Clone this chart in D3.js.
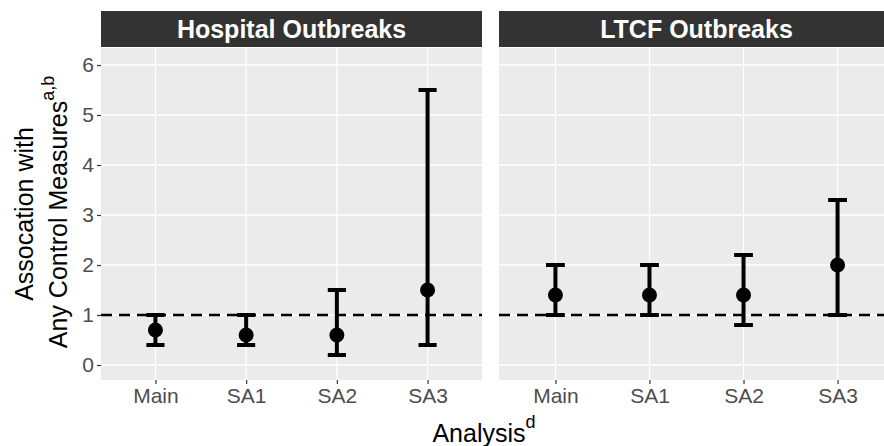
<!DOCTYPE html>
<html>
<head>
<meta charset="utf-8">
<script src="https://cdn.jsdelivr.net/npm/d3@7"></script>
<style>
  html, body { margin: 0; padding: 0; background: #fff; }
  svg { display: block; font-family: "Liberation Sans", Arial, sans-serif; }
</style>
</head>
<body>
<svg id="chart" width="884" height="446"></svg>
<script>
// Analyses shown on the x axis of each facet
const analyses = ["Main", "SA1", "SA2", "SA3"];
const facetTitles = ["Hospital Outbreaks", "LTCF Outbreaks"];

// Hospital outbreaks: estimate with lower / upper interval bounds
const hospitalEst  = [0.7, 0.6, 0.6, 1.5];
const hospitalLow  = [0.4, 0.4, 0.2, 0.4];
const hospitalHigh = [1.0, 1.0, 1.5, 5.5];

// LTCF outbreaks: estimate with lower / upper interval bounds
const ltcfEst  = [1.4, 1.4, 1.4, 2.0];
const ltcfLow  = [1.0, 1.0, 0.8, 1.0];
const ltcfHigh = [2.0, 2.0, 2.2, 3.3];

const yTicks = [0, 1, 2, 3, 4, 5, 6];
const referenceValue = 1;

const series = [
  { est: hospitalEst, low: hospitalLow, high: hospitalHigh },
  { est: ltcfEst, low: ltcfLow, high: ltcfHigh }
];

// Layout
const panelTop = 48, panelBottom = 380;
const stripTop = 11, stripBottom = 47;
const panels = [{ x0: 101, x1: 482 }, { x0: 499, x1: 894 }];

const svg = d3.select("#chart");

const y = d3.scaleLinear().domain([-0.3, 6.34]).range([panelBottom, panelTop]);

const tickColor = "#4D4D4D";
const gridColor = "#FFFFFF";

panels.forEach((p, i) => {
  const x = d3.scalePoint().domain(analyses).range([p.x0, p.x1]).padding(0.6);
  const g = svg.append("g");

  // panel background
  g.append("rect")
    .attr("x", p.x0).attr("y", panelTop)
    .attr("width", p.x1 - p.x0).attr("height", panelBottom - panelTop)
    .attr("fill", "#EBEBEB");

  // horizontal grid
  g.selectAll("line.hgrid").data(yTicks).join("line")
    .attr("class", "hgrid")
    .attr("x1", p.x0).attr("x2", p.x1)
    .attr("y1", d => y(d)).attr("y2", d => y(d))
    .attr("stroke", gridColor).attr("stroke-width", 1.3);

  // vertical grid
  g.selectAll("line.vgrid").data(analyses).join("line")
    .attr("class", "vgrid")
    .attr("x1", d => x(d)).attr("x2", d => x(d))
    .attr("y1", panelTop).attr("y2", panelBottom)
    .attr("stroke", gridColor).attr("stroke-width", 1.3);

  // strip
  g.append("rect")
    .attr("x", p.x0).attr("y", stripTop)
    .attr("width", p.x1 - p.x0).attr("height", stripBottom - stripTop)
    .attr("fill", "#333333");
  g.append("text")
    .attr("x", (p.x0 + p.x1) / 2).attr("y", 38)
    .attr("text-anchor", "middle")
    .attr("fill", "#FFFFFF")
    .attr("font-weight", "bold")
    .attr("font-size", 25)
    .text(facetTitles[i]);

  // x axis
  const xAxis = d3.axisBottom(x).tickSize(4).tickPadding(4);
  const ax = g.append("g").attr("transform", `translate(0,${panelBottom})`).call(xAxis);
  ax.select(".domain").remove();
  ax.selectAll(".tick line").attr("stroke", "#333333").attr("stroke-width", 1.2);
  ax.selectAll(".tick text")
    .attr("fill", tickColor).attr("font-size", 21)
    .attr("font-family", "Liberation Sans, Arial, sans-serif")
    .attr("dy", "0.71em");

  // y axis on the first panel only
  if (i === 0) {
    const yAxis = d3.axisLeft(y).tickValues(yTicks).tickFormat(d3.format("d"))
      .tickSize(4).tickPadding(3);
    const ay = g.append("g").attr("transform", `translate(${p.x0},0)`).call(yAxis);
    ay.select(".domain").remove();
    ay.selectAll(".tick line").attr("stroke", "#333333").attr("stroke-width", 1.2);
    ay.selectAll(".tick text")
      .attr("fill", tickColor).attr("font-size", 21)
      .attr("font-family", "Liberation Sans, Arial, sans-serif");
  }

  const s = series[i];
  const rows = analyses.map((a, k) => ({ a, est: s.est[k], low: s.low[k], high: s.high[k] }));
  const capHalf = x.step() * 0.1;

  // reference line
  g.append("line")
    .attr("x1", p.x0).attr("x2", p.x1)
    .attr("y1", y(referenceValue)).attr("y2", y(referenceValue))
    .attr("stroke", "#000").attr("stroke-width", 2.6)
    .attr("stroke-dasharray", "11,7");

  // error bars
  const eb = g.selectAll("g.eb").data(rows).join("g").attr("class", "eb");
  eb.append("line")
    .attr("x1", d => x(d.a)).attr("x2", d => x(d.a))
    .attr("y1", d => y(d.low)).attr("y2", d => y(d.high))
    .attr("stroke", "#000").attr("stroke-width", 4);
  eb.append("line")
    .attr("x1", d => x(d.a) - capHalf).attr("x2", d => x(d.a) + capHalf)
    .attr("y1", d => y(d.low)).attr("y2", d => y(d.low))
    .attr("stroke", "#000").attr("stroke-width", 4);
  eb.append("line")
    .attr("x1", d => x(d.a) - capHalf).attr("x2", d => x(d.a) + capHalf)
    .attr("y1", d => y(d.high)).attr("y2", d => y(d.high))
    .attr("stroke", "#000").attr("stroke-width", 4);
  eb.append("circle")
    .attr("cx", d => x(d.a)).attr("cy", d => y(d.est))
    .attr("r", 7.5).attr("fill", "#000");
});

// y axis title (two lines)
const yMid = (panelTop + panelBottom) / 2;
svg.append("text")
  .attr("transform", `translate(33,${yMid}) rotate(-90)`)
  .attr("text-anchor", "middle")
  .attr("font-size", 25).attr("fill", "#000")
  .text("Assocation with");
const yt2 = svg.append("text")
  .attr("transform", `translate(67,${yMid - 2}) rotate(-90)`)
  .attr("text-anchor", "middle")
  .attr("font-size", 25).attr("fill", "#000");
yt2.append("tspan").text("Any Control Measures");
yt2.append("tspan").attr("font-size", 18).attr("dy", -13).text("a,b");

// x axis title
const xt = svg.append("text")
  .attr("x", 484).attr("y", 442)
  .attr("text-anchor", "middle")
  .attr("font-size", 25).attr("fill", "#000");
xt.append("tspan").text("Analysis");
xt.append("tspan").attr("font-size", 18).attr("dy", -14).text("d");
</script>
</body>
</html>
